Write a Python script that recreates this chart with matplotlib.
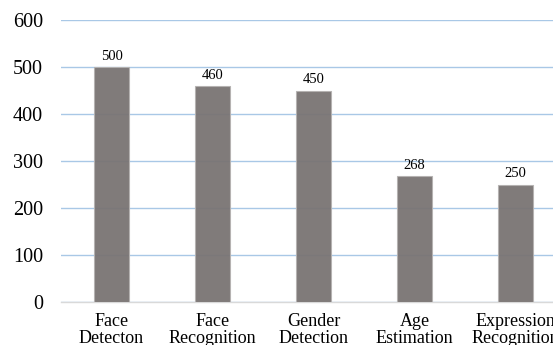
import numpy as np
import matplotlib.pyplot as plt

plt.rcParams['font.family'] = ['Liberation Serif', 'DejaVu Serif']

categories = ['Face\nDetecton', 'Face\nRecognition', 'Gender\nDetection', 'Age\nEstimation', 'Expression\nRecognition']
values = [500, 460, 450, 268, 250]

W, H = 553, 345
fig = plt.figure(figsize=(W / 100, H / 100), dpi=100)
# 右边被裁掉一点, 所以坐标轴伸出画布
ax = fig.add_axes([61 / W, 1 - 302 / H, 505 / W, 282 / H])

x = np.arange(len(categories))
bars = ax.bar(x, values, width=0.34, color='#797473', alpha=0.95,
              edgecolor='#b5b2b1', linewidth=0.8, zorder=3)

for xi, v in zip(x, values):
    ax.annotate(str(v), (xi, v), xytext=(0, 3), textcoords='offset points',
                ha='center', va='bottom', fontsize=10.5, zorder=4)

ax.set_xlim(-0.5, len(categories) - 0.5)
ax.set_ylim(0, 600)
ax.set_yticks(range(0, 601, 100))
ax.yaxis.grid(True, color='#a9c8e6', linewidth=1.0, zorder=0)
ax.set_axisbelow(True)

ax.set_xticks(x)
ax.set_xticklabels(categories, fontsize=13, linespacing=1.0)
ax.tick_params(axis='y', labelsize=14.5, length=0, pad=13)
ax.tick_params(axis='x', length=0, pad=8)

for s in ['top', 'right', 'left']:
    ax.spines[s].set_visible(False)
ax.spines['bottom'].set_color('#d9d9d9')
ax.spines['bottom'].set_linewidth(1.0)

fig.savefig('out.png', dpi=100)
